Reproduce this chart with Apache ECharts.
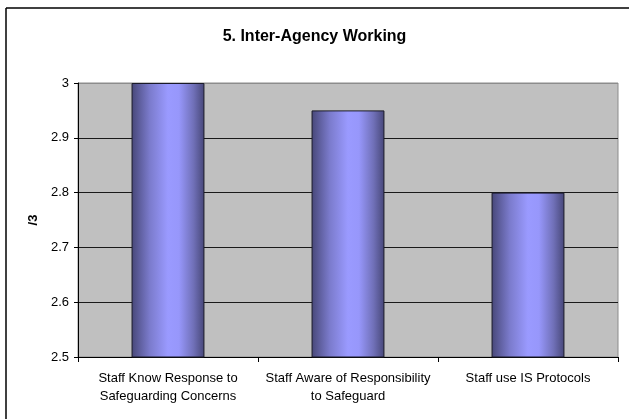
<!DOCTYPE html>
<html>
<head>
<meta charset="utf-8">
<script src="https://cdn.jsdelivr.net/npm/echarts@6/dist/echarts.min.js"></script>
<style>
  html, body { margin: 0; padding: 0; background: #fff; }
  #chart { width: 629px; height: 419px; }
</style>
</head>
<body>
<div id="chart"></div>
<script>
// Inter-agency working scores (out of 3)
var categories = [
  'Staff Know Response to\nSafeguarding Concerns',
  'Staff Aware of Responsibility\nto Safeguard',
  'Staff use IS Protocols'
];
var scores = [3.0, 2.95, 2.8];

var chart = echarts.init(document.getElementById('chart'));

var barFill = new echarts.graphic.LinearGradient(0, 0, 1, 0, [
  { offset: 0, color: '#474778' },
  { offset: 0.25, color: '#7b7bcc' },
  { offset: 0.5, color: '#9a9aff' },
  { offset: 0.65, color: '#9797fb' },
  { offset: 0.85, color: '#7070b8' },
  { offset: 1, color: '#474778' }
]);

chart.setOption({
  animation: false,
  backgroundColor: '#ffffff',
  textStyle: { fontFamily: 'Liberation Sans, Arial, sans-serif' },
  title: {
    text: '5. Inter-Agency Working',
    left: 'center',
    top: 24,
    textStyle: { fontSize: 16, fontWeight: 'bold', color: '#000' }
  },
  graphic: [
    { type: 'line', shape: { x1: 6, y1: 8, x2: 629, y2: 8 }, style: { stroke: '#000', lineWidth: 1.5 } },
    { type: 'line', shape: { x1: 6, y1: 8, x2: 6, y2: 419 }, style: { stroke: '#000', lineWidth: 1.5 } }
  ],
  grid: {
    left: 78, right: 11, top: 83, bottom: 62,
    show: true,
    backgroundColor: '#c0c0c0',
    borderColor: '#8c8c8c',
    borderWidth: 1
  },
  xAxis: {
    type: 'category',
    data: categories,
    axisLine: { lineStyle: { color: '#000', width: 1 } },
    axisTick: { show: true, length: 5, lineStyle: { color: '#000' }, alignWithLabel: false },
    axisLabel: { color: '#000', fontSize: 13, margin: 12, lineHeight: 18, interval: 0 }
  },
  yAxis: {
    type: 'value',
    min: 2.5,
    max: 3,
    interval: 0.1,
    name: '/3',
    nameLocation: 'middle',
    nameGap: 38,
    nameTextStyle: { fontSize: 13, fontWeight: 'bold', color: '#000' },
    axisLine: { show: true, lineStyle: { color: '#000', width: 1 } },
    axisTick: { show: true, length: 4, lineStyle: { color: '#000' } },
    axisLabel: {
      color: '#000', fontSize: 13, margin: 9,
      formatter: function (v) { return String(Math.round(v * 10) / 10); }
    },
    splitLine: {
      show: true,
      lineStyle: { color: ['#000', '#1a1a1a', '#1a1a1a', '#1a1a1a', '#1a1a1a', '#8c8c8c'], width: 1 }
    }
  },
  series: [{
    type: 'bar',
    data: scores,
    barWidth: '40.5%',
    itemStyle: { color: barFill, borderColor: '#1a1a28', borderWidth: 1 }
  }]
});
</script>
</body>
</html>
